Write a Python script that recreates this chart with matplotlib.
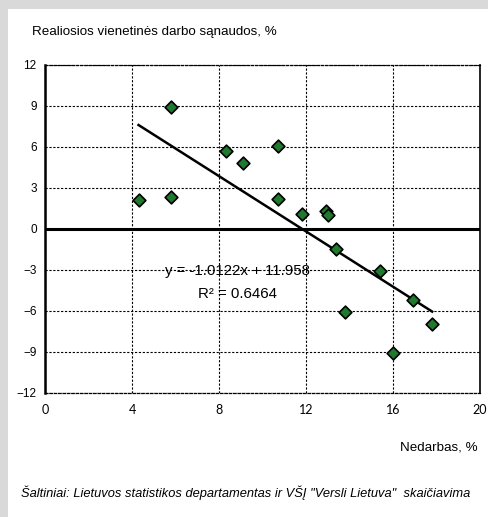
import numpy as np
import matplotlib.pyplot as plt
from matplotlib.patches import Rectangle

# unemployment, % vs real unit labour costs, %
unemployment = [4.3, 5.8, 5.8, 8.3, 9.1, 10.7, 10.7, 11.8, 12.9, 13.0,
                13.4, 13.8, 15.4, 16.0, 16.9, 17.8]
labour_costs = [2.1, 8.9, 2.3, 5.7, 4.8, 6.1, 2.2, 1.1, 1.3, 1.0,
                -1.5, -6.1, -3.1, -9.1, -5.2, -7.0]

slope, intercept = -1.0122, 11.958
r2 = 0.6464

x_ticks = [0, 4, 8, 12, 16, 20]
y_ticks = [-12, -9, -6, -3, 0, 3, 6, 9, 12]

fig = plt.figure(figsize=(4.88, 5.17), dpi=100)
fig.patch.set_facecolor('#d9d9d9')
fig.add_artist(Rectangle((8 / 488, 0), 1, 1 - 9 / 517, transform=fig.transFigure,
                         facecolor='white', edgecolor='none', zorder=0))

ax = fig.add_axes([45 / 488, 1 - 392.7 / 517, 435 / 488, 327.7 / 517])
ax.set_facecolor('white')

ax.set_xlim(0, 20)
ax.set_ylim(-12, 12)
ax.set_xticks(x_ticks)
ax.set_yticks(y_ticks)
ax.set_xticklabels([str(t) for t in x_ticks], fontname='Lato', fontsize=9)
ax.set_yticklabels([str(t).replace('-', '\u2212') for t in y_ticks],
                   fontname='Liberation Sans', fontsize=8.5)
ax.tick_params(length=0, pad=6)
ax.tick_params(axis='x', pad=8)

ax.grid(True, color='black', linestyle=(0, (2, 1.5)), linewidth=0.8)
ax.set_axisbelow(True)

for side in ['top', 'bottom']:
    ax.spines[side].set_linestyle((0, (2, 1.5)))
    ax.spines[side].set_linewidth(0.9)
ax.spines['left'].set_linewidth(1.8)
ax.spines['right'].set_linewidth(1.2)

ax.axhline(0, color='black', linewidth=2.2, zorder=2)

x_fit = np.array([min(unemployment), max(unemployment)])
ax.plot(x_fit, slope * x_fit + intercept, color='black', linewidth=1.8, zorder=3)

ax.scatter(unemployment, labour_costs, marker='D', s=42, facecolor='#1f7a2e',
           edgecolor='black', linewidth=1.2, zorder=4)

ax.text(8.87, -3.1, f"y = {slope}x + {intercept}", ha='center', va='center',
        fontname='Liberation Sans', fontsize=10.8, zorder=5)
ax.text(8.87, -4.75, f"R\u00b2 = {r2}", ha='center', va='center',
        fontname='Liberation Sans', fontsize=10.8, zorder=5)

fig.text(32 / 488, 1 - 32 / 517, "Realiosios vienetinės darbo sąnaudos, %",
         fontname='Liberation Sans', fontsize=9.6, va='center')
fig.text(478 / 488, 1 - 448 / 517, "Nedarbas, %", ha='right', va='center',
         fontname='Liberation Sans', fontsize=9.6)
fig.text(21 / 488, 1 - 493 / 517,
         'Šaltiniai: Lietuvos statistikos departamentas ir VŠĮ "Versli Lietuva"  skaičiavima',
         fontname='Liberation Sans', fontstyle='italic', fontsize=9.3, va='center')

fig.savefig('out.png', dpi=100, facecolor=fig.get_facecolor())
